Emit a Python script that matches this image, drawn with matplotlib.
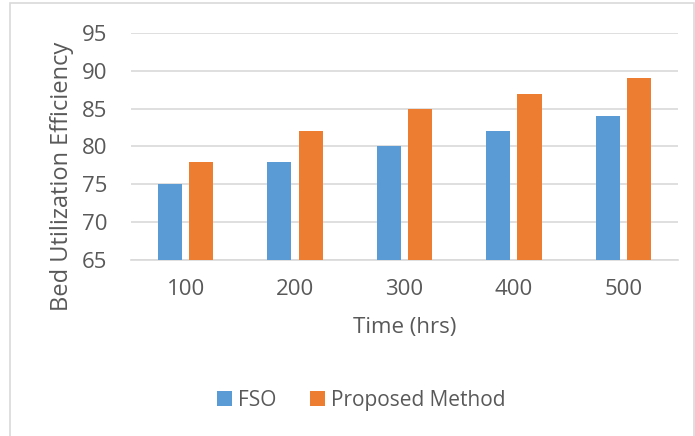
import numpy as np
import matplotlib.pyplot as plt
from matplotlib.patches import Rectangle

# Dados
tempos = ['100', '200', '300', '400', '500']
fso = [75, 78, 80, 82, 84]
proposto = [78, 82, 85, 87, 89]

cor_fso = '#5B9BD5'
cor_prop = '#ED7D31'
cinza = '#595959'

plt.rcParams['font.family'] = ['Open Sans', 'DejaVu Sans']

fig = plt.figure(figsize=(6.95, 4.36), dpi=100)
ax = fig.add_axes([0.1885, 0.4037, 0.787, 0.5206])

x = np.arange(len(tempos))
largura = 0.22
desloc = 0.143

ax.bar(x - desloc, [v - 65 for v in fso], largura, bottom=65, color=cor_fso,
       label='FSO', zorder=3)
ax.bar(x + desloc, [v - 65 for v in proposto], largura, bottom=65, color=cor_prop,
       label='Proposed Method', zorder=3)

ax.set_ylim(65, 95)
ax.set_xlim(-0.5, len(tempos) - 0.5)
ax.set_yticks(range(65, 96, 5))
ax.set_xticks(x)
ax.set_xticklabels(tempos)
ax.tick_params(axis='both', length=0, labelsize=16, colors=cinza)
ax.tick_params(axis='x', pad=14)
ax.tick_params(axis='y', pad=17)
ax.grid(axis='y', color='#D9D9D9', linewidth=1.2, zorder=0)
for s in ['top', 'right', 'left']:
    ax.spines[s].set_visible(False)
ax.spines['bottom'].set_color('#D9D9D9')
ax.spines['bottom'].set_linewidth(1.2)

ax.set_xlabel('Time (hrs)', fontsize=16, color=cinza, labelpad=12)
ax.set_ylabel('Bed Utilization Efficiency', fontsize=17, color=cinza)
ax.yaxis.set_label_coords(-0.104, 0.37)

fig.legend(loc='center', bbox_to_anchor=(0.52, 0.082), ncol=2, frameon=False,
           fontsize=15, labelcolor=cinza, handlelength=0.7, handleheight=0.7,
           handletextpad=0.3, columnspacing=1.6)

# Moldura do gráfico
fig.patches.append(Rectangle((10 / 695, -0.01), 684 / 695, 1.0 - 3 / 436 + 0.01,
                             transform=fig.transFigure, fill=False,
                             edgecolor='#D9D9D9', linewidth=1.2))

fig.savefig('out.png', dpi=100)
